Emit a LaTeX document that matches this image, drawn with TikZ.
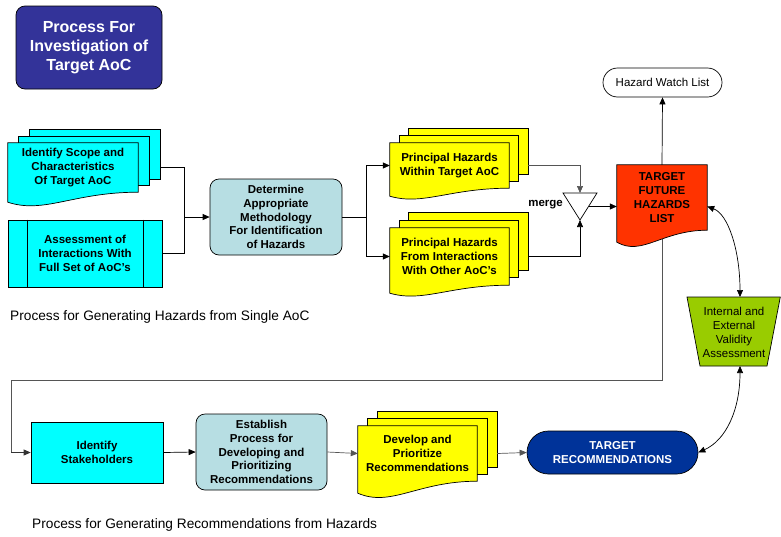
\documentclass[tikz,border=0pt]{standalone}
\usepackage{fontspec}
\setmainfont{Liberation Sans}
\usetikzlibrary{calc,arrows.meta,backgrounds}
\definecolor{cyanbox}{HTML}{00FFFF}
\definecolor{yellowbox}{HTML}{FFFF00}
\definecolor{paleblue}{HTML}{B7DEE3}
\definecolor{redbox}{HTML}{FF3300}
\definecolor{greenbox}{HTML}{99CC00}
\definecolor{titleblue}{HTML}{333399}
\definecolor{recblue}{HTML}{003399}
\definecolor{loopgray}{HTML}{555555}
% document shape behind a (borderless) node: #1 node, #2 fill, #3 wave depth
\newcommand\docshape[3]{%
  \path[docline, fill=#2] (#1.north west) -- (#1.north east) -- (#1.south east)
    .. controls (#1.south) and ($(#1.south west)!0.28!(#1.south east)+(0,{2.2*#3})$)
    .. ($(#1.south west)+(0,#3)$) -- cycle;}
% two back pages of a multi-document: #1 node, #2 fill, #3 dx, #4 dy
\newcommand\backpages[4]{%
  \path[docline, fill=#2] ($(#1.north west)+({2*#3},{-2*#4})$) rectangle ($(#1.south east)+({2*#3},{-2*#4})$);
  \path[docline, fill=#2] ($(#1.north west)+(#3,-#4)$) rectangle ($(#1.south east)+(#3,-#4)$);}
\begin{document}
\begin{tikzpicture}[x=1pt,y=-1pt,
  boldtext/.style={font=\bfseries\fontsize{11.5}{13.8}\selectfont},
  plaintext/.style={font=\fontsize{11.5}{14}\selectfont},
  labeltext/.style={font=\fontsize{13.7}{16}\selectfont},
  box/.style={draw=black, line width=0.7pt, align=center, inner sep=0pt, boldtext},
  docnode/.style={align=center, inner sep=0pt, boldtext},
  docline/.style={draw=black, line width=0.7pt},
  plainline/.style={line width=0.7pt},
  conn/.style={line width=0.7pt, -{Triangle[length=7pt,width=6pt]}},
  dconn/.style={line width=0.7pt, {Triangle[length=7pt,width=6pt]}-{Triangle[length=7pt,width=6pt]}}]
\useasboundingbox (0,0) rectangle (781,536);

% ---- title
\node[box, fill=titleblue, rounded corners=9pt, minimum width=146, minimum height=83,
      text=white, font=\bfseries\fontsize{16}{19}\selectfont] (title) at (89,47.5)
      {Process For\\Investigation of\\Target AoC};

% ---- upper row
\node[docnode, minimum width=130, minimum height=49] (scope) at (73,167.5)
      {Identify Scope and\\Characteristics\\Of Target AoC};
\node[box, fill=cyanbox, minimum width=154, minimum height=67] (assess) at (85,253.5)
      {Assessment of\\Interactions With\\Full Set of AoC’s};
\draw[plainline] ($(assess.north west)+(20,0)$) -- ($(assess.south west)+(20,0)$);
\draw[plainline] ($(assess.north east)+(-19,0)$) -- ($(assess.south east)+(-19,0)$);

\node[box, fill=paleblue, rounded corners=9pt, minimum width=132, minimum height=76] (det) at (276,217)
      {Determine\\Appropriate\\Methodology\\For Identification\\of Hazards};

\node[docnode, minimum width=119, minimum height=45] (within) at (449.5,165.5)
      {Principal Hazards\\Within Target AoC};
\node[docnode, minimum width=119, minimum height=57] (from) at (449.5,256.5)
      {Principal Hazards\\From Interactions\\With Other AoC’s};

\coordinate (mgA) at (563,193);
\coordinate (mgB) at (597,193);
\coordinate (mgC) at (580,220);
\coordinate (mgT) at ($(mgA)!0.5!(mgB)$);
\coordinate (mgR) at ($(mgB)!0.5!(mgC)$);
\draw[docline, fill=white] (mgA) -- (mgB) -- (mgC) -- cycle;
\node[boldtext, anchor=east, inner sep=0pt] (mergelbl) at (563,205) {merge};

\node[docnode, minimum width=90, minimum height=65] (red) at (662,197.5)
      {TARGET\\FUTURE\\HAZARDS\\LIST};
\node[draw=black, line width=0.7pt, rounded corners=14.5pt, minimum width=119, minimum height=29,
      inner sep=0pt, plaintext] (hwl) at (662.5,82.5) {Hazard Watch List};

\coordinate (gTL) at (687,297);
\coordinate (gTR) at (780.3,297);
\coordinate (gBR) at (767,366);
\coordinate (gBL) at (700,366);
\coordinate (gT) at (740,297);
\coordinate (gB) at (740,366);
\draw[docline, fill=greenbox] (gTL) -- (gTR) -- (gBR) -- (gBL) -- cycle;
\node[align=center, inner sep=0pt, plaintext] (valid) at (734,332)
      {Internal and\\External\\Validity\\Assessment};

\node[labeltext, anchor=west, inner sep=0pt] (lbl1) at (10,317)
      {Process for Generating Hazards from Single AoC};

% ---- lower row
\node[box, fill=cyanbox, minimum width=132, minimum height=61] (stake) at (97,452.5)
      {Identify\\Stakeholders};
\node[box, fill=paleblue, rounded corners=9pt, minimum width=131, minimum height=76] (est) at (261.5,452)
      {Establish\\Process for\\Developing and\\Prioritizing\\Recommendations};
\node[docnode, minimum width=119, minimum height=55] (dev) at (417.5,453.5)
      {Develop and\\Prioritize\\Recommendations};
\node[box, fill=recblue, text=white, rounded corners=21.5pt, minimum width=171, minimum height=43] (trec)
      at (612.5,452.5) {TARGET\\RECOMMENDATIONS};

\node[labeltext, anchor=west, inner sep=0pt] (lbl2) at (32,525)
      {Process for Generating Recommendations from Hazards};

% ---- shapes drawn behind their texts
\begin{scope}[on background layer]
  \coordinate (l1) at (662,380);
  \coordinate (l2) at (11,380);
  \coordinate (l3) at (11,452.5);
  \draw[line width=0.8pt, draw=loopgray] (red.south) -- (l1) -- (l2) -- (l3);
  \backpages{scope}{cyanbox}{11}{6.5}
  \docshape{scope}{cyanbox}{10}
  \backpages{within}{yellowbox}{9.5}{7}
  \docshape{within}{yellowbox}{8}
  \backpages{from}{yellowbox}{9.5}{7.5}
  \docshape{from}{yellowbox}{8}
  \docshape{red}{redbox}{12}
  \backpages{dev}{yellowbox}{10}{7}
  \docshape{dev}{yellowbox}{12}
\end{scope}

% ---- connectors
\coordinate (scopeR) at ($(scope.east)+(22,0)$);
\coordinate (withinR) at ($(within.east)+(19,0)$);
\coordinate (fromR) at ($(from.east)+(19,0)$);
\coordinate (devR) at ($(dev.east)+(20,0)$);
\coordinate (j1) at (184,217);
\coordinate (j2) at (366,217);
\coordinate (redR) at ($(red.east)+(0,9)$);

\draw[plainline] (scopeR) -| (j1);
\draw[plainline] (assess.east) -| (j1);
\draw[conn] (j1) -- (det.west);
\draw[plainline] (det.east) -- (j2);
\draw[conn] (j2) |- (within.west);
\draw[conn] (j2) |- (from.west);
\draw[conn, draw=loopgray] (withinR) -| (mgT);
\draw[conn] (fromR) -| (mgC);
\draw[conn] (mgR) -- (mgR -| red.west);
\draw[conn] (red.north) -- (hwl.south);
\draw[dconn] (redR) .. controls (728,214) and (740,250) .. (gT);
\draw[dconn] (gB) .. controls (740,410) and (726,440) .. (trec.east);
\draw[conn, draw=black!80] (l3) -- (stake.west);
\draw[conn] (stake.east) -- (est.west);
\draw[conn, draw=loopgray] (est.east) -- (dev.west);
\draw[conn, draw=loopgray] (devR) -- (trec.west);
\end{tikzpicture}
\end{document}
